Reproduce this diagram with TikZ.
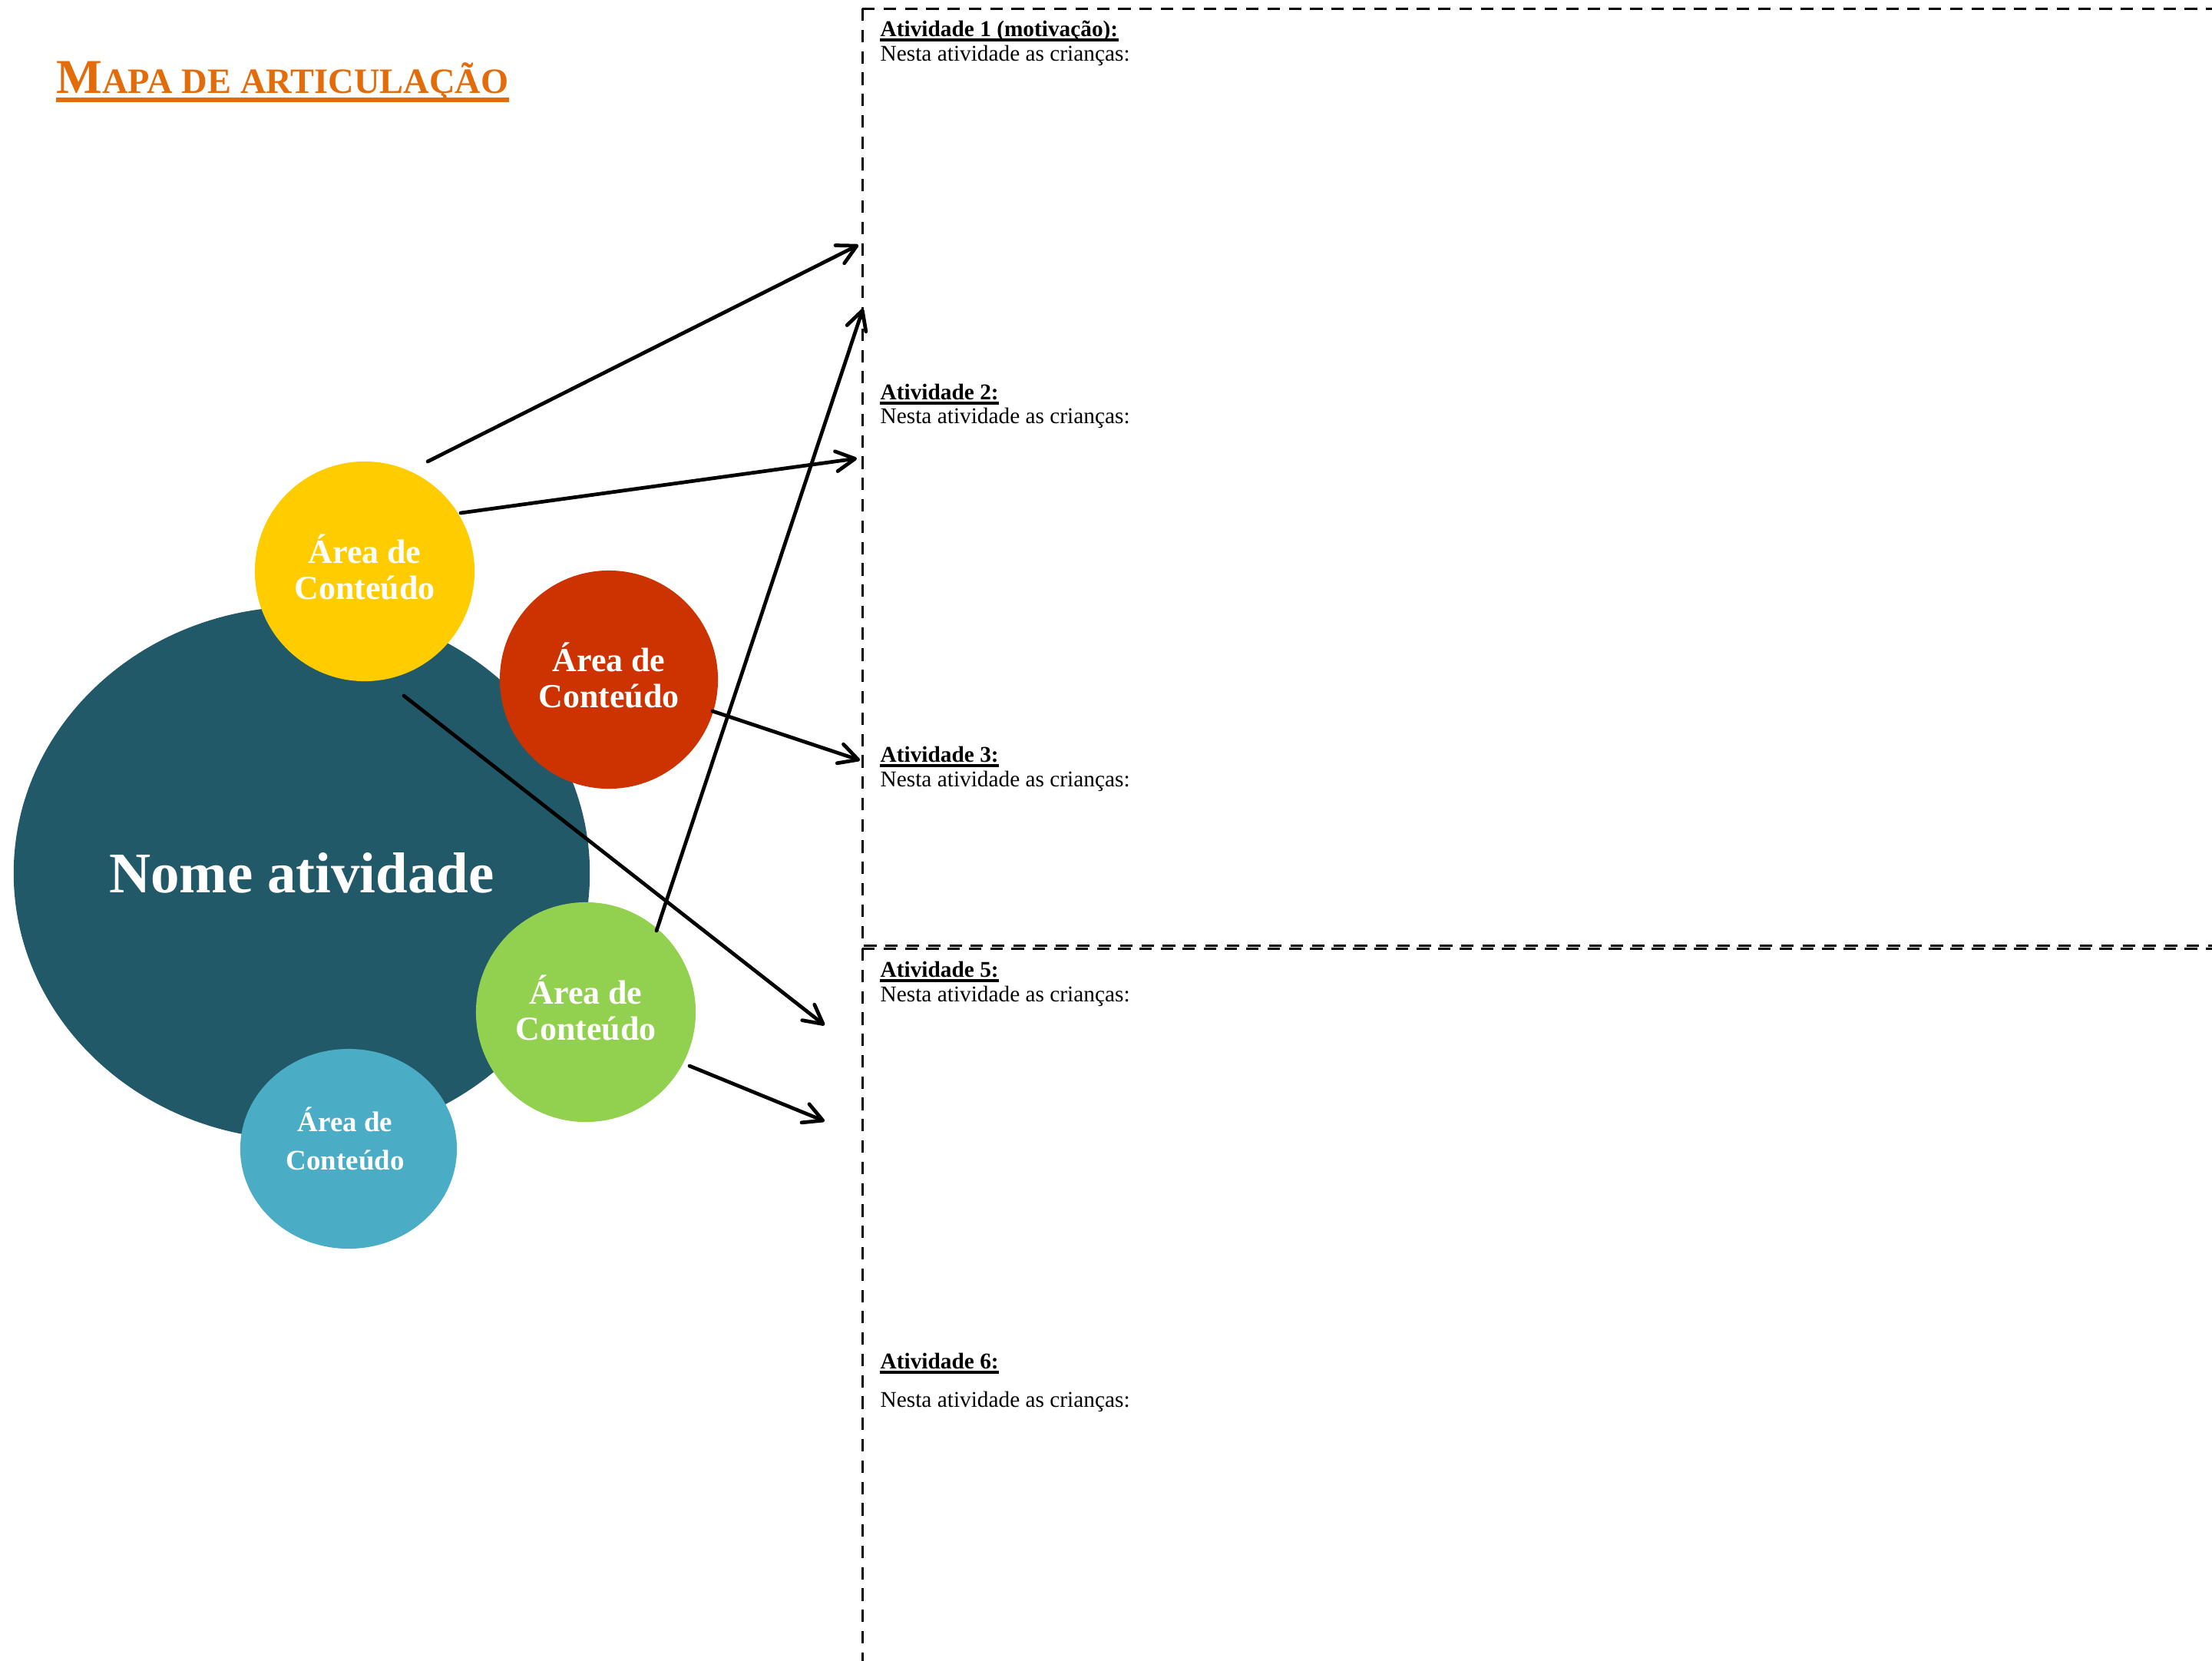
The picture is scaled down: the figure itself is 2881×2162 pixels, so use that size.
\documentclass[tikz,border=0pt]{standalone}
\usepackage{fontspec}
\setmainfont{Liberation Serif}
\usetikzlibrary{shapes.geometric,arrows.meta}
\definecolor{cteal}{HTML}{215968}
\definecolor{cyellow}{HTML}{FFCC00}
\definecolor{cred}{HTML}{CC3300}
\definecolor{cgreen}{HTML}{92D050}
\definecolor{cblue}{HTML}{4BACC6}
\definecolor{corange}{HTML}{E36C0A}
\begin{document}
\begin{tikzpicture}[x=0.01cm,y=-0.01cm,
  dbox/.style={draw=black,line width=0.85pt,dash pattern=on 4.6pt off 3.3pt},
  bubble/.style={ellipse,inner sep=0pt,text=white,align=center,
    font=\fontsize{12.5pt}{13.4pt}\selectfont\bfseries},
  lbl/.style={anchor=base west,inner sep=0pt,font=\fontsize{8.34pt}{10pt}\selectfont\bfseries},
  txt/.style={anchor=base west,inner sep=0pt,font=\fontsize{8.34pt}{10pt}\selectfont},
  ul/.style={line width=1pt},
  arr/.style={draw=black,line width=1.35pt,line cap=round,line join=round,
    -{Straight Barb[length=7pt,width=7.4pt,line cap=round,line join=round]}}]
\useasboundingbox (0,0) rectangle (2881,2162);
\clip (0,0) rectangle (2881,2162);

% dashed panels
\draw[dbox] (1123,11) -- (3000,11);
\draw[dbox] (1123,11) -- (1123,1231) -- (3000,1231);
\draw[dbox] (1123,1235) -- (3000,1235);
\draw[dbox] (1123,1235) -- (1123,2300);

% title
\node[anchor=base west,inner sep=0pt,text=corange] (title) at (73,121)
  {\fontsize{18pt}{18pt}\selectfont\bfseries M\fontsize{13.2pt}{13.2pt}\selectfont APA DE ARTICULAÇÃO};
\draw[corange,line width=1.5pt] ([yshift=-0.09cm]title.base west) -- ([yshift=-0.09cm]title.base east);

% circles
\node[bubble,fill=cteal,minimum width=7.5cm,minimum height=6.94cm,
  font=\fontsize{21.3pt}{24pt}\selectfont\bfseries] (main) at (393,1137) {Nome atividade};
\node[bubble,fill=cyellow,minimum width=2.86cm,minimum height=2.86cm] (ayel) at (475,744)
  {Área de\\Conteúdo\rule[-3.4pt]{0pt}{0pt}};
\node[bubble,fill=cred,minimum width=2.84cm,minimum height=2.84cm] (ared) at (793,885)
  {Área de\\Conteúdo\rule[-3.4pt]{0pt}{0pt}};
\node[bubble,fill=cgreen,minimum width=2.86cm,minimum height=2.86cm] (agrn) at (763,1318)
  {Área de\\Conteúdo\rule[-3.4pt]{0pt}{0pt}};
\node[bubble,fill=cblue,minimum width=2.82cm,minimum height=2.6cm,
  font=\fontsize{10.5pt}{14.2pt}\selectfont\bfseries] (ablu) at (454,1496)
  {Área de\hspace*{2.5pt}\\Conteúdo\hspace*{2.5pt}\rule[-7.4pt]{0pt}{0pt}};

% activity texts
\node[lbl] (t1) at (1146,47) {Atividade 1 (motivação):};
\draw[ul] ([yshift=-0.05cm]t1.base west) -- ([yshift=-0.05cm]t1.base east);
\node[txt] (n1) at (1146,79) {Nesta atividade as crianças:};

\node[lbl] (t2) at (1146,520) {Atividade 2:};
\draw[ul] ([yshift=-0.05cm]t2.base west) -- ([yshift=-0.05cm]t2.base east);
\node[txt] (n2) at (1146,551) {Nesta atividade as crianças:};

\node[lbl] (t3) at (1146,992) {Atividade 3:};
\draw[ul] ([yshift=-0.05cm]t3.base west) -- ([yshift=-0.05cm]t3.base east);
\node[txt] (n3) at (1146,1024) {Nesta atividade as crianças:};

\node[lbl] (t5) at (1146,1272) {Atividade 5:};
\draw[ul] ([yshift=-0.05cm]t5.base west) -- ([yshift=-0.05cm]t5.base east);
\node[txt] (n5) at (1146,1304) {Nesta atividade as crianças:};

\node[lbl] (t6) at (1146,1782) {Atividade 6:};
\draw[ul] ([yshift=-0.05cm]t6.base west) -- ([yshift=-0.05cm]t6.base east);
\node[txt] (n6) at (1146,1832) {Nesta atividade as crianças:};

% arrows
\coordinate (s1) at (557,601);  \coordinate (e1) at (1118,319);
\coordinate (s2) at (600,668);  \coordinate (e2) at (1116,597);
\coordinate (s3) at (526,906);  \coordinate (e3) at (1074,1335);
\coordinate (s4) at (928,926);  \coordinate (e4) at (1120,990);
\coordinate (s5) at (855,1212); \coordinate (e5) at (1124,402);
\coordinate (s6) at (898,1388); \coordinate (e6) at (1074,1460);
\draw[arr] (s1) -- (e1);
\draw[arr] (s2) -- (e2);
\draw[arr] (s3) -- (e3);
\draw[arr] (s4) -- (e4);
\draw[arr] (s5) -- (e5);
\draw[arr] (s6) -- (e6);
\end{tikzpicture}
\end{document}
